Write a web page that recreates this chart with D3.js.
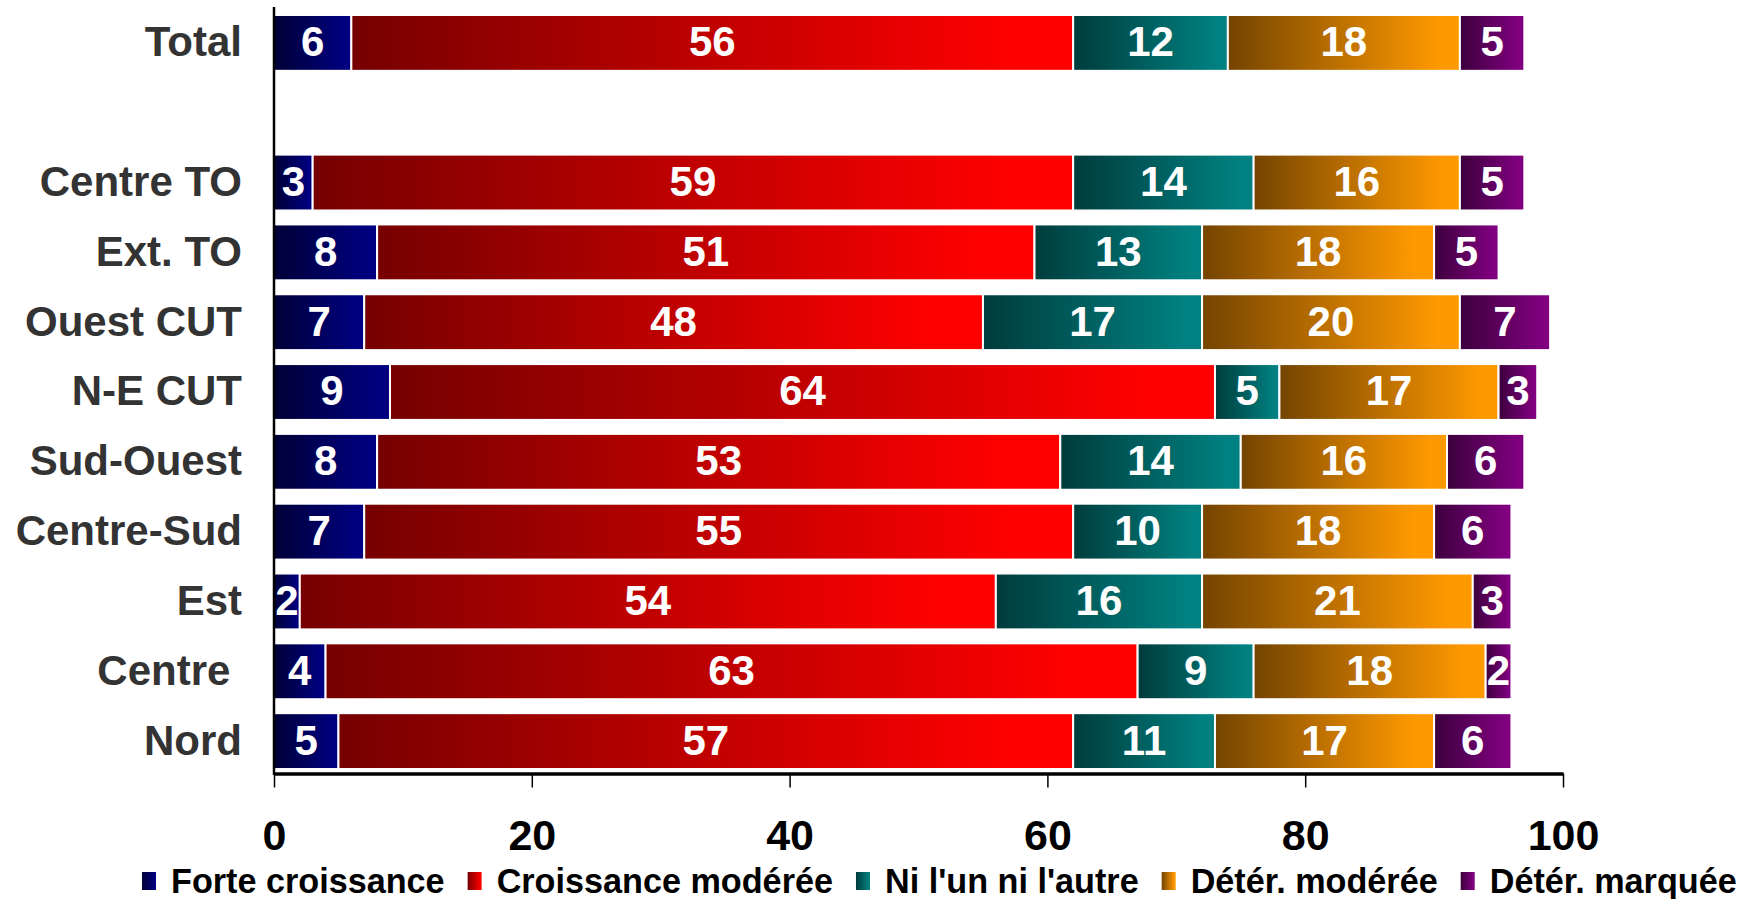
<!DOCTYPE html>
<html>
<head>
<meta charset="utf-8">
<script src="https://cdn.jsdelivr.net/npm/d3@7"></script>
<style>
  html, body { margin: 0; padding: 0; background: #ffffff; }
  svg { display: block; font-family: "Liberation Sans", Arial, sans-serif; }
</style>
</head>
<body>
<svg id="chart" width="1757" height="899"></svg>
<script>
// ---- Data ----
const categories = ["Total", "Centre TO", "Ext. TO", "Ouest CUT", "N-E CUT", "Sud-Ouest", "Centre-Sud", "Est", "Centre ", "Nord"];
const seriesNames = ["Forte croissance", "Croissance modérée", "Ni l'un ni l'autre", "Détér. modérée", "Détér. marquée"];
const forteCroissance   = [6, 3, 8, 7, 9, 8, 7, 2, 4, 5];
const croissanceModeree = [56, 59, 51, 48, 64, 53, 55, 54, 63, 57];
const niLunNiLautre     = [12, 14, 13, 17, 5, 14, 10, 16, 9, 11];
const deterModeree      = [18, 16, 18, 20, 17, 16, 18, 21, 18, 17];
const deterMarquee      = [5, 5, 5, 7, 3, 6, 6, 3, 2, 6];
const xTicks = [0, 20, 40, 60, 80, 100];

const seriesValues = [forteCroissance, croissanceModeree, niLunNiLautre, deterModeree, deterMarquee];
const seriesColors = [
  ["#000036", "#000080"],
  ["#760000", "#ff0000"],
  ["#003c3c", "#008080"],
  ["#744400", "#ff9900"],
  ["#3c003c", "#800080"]
];

// ---- Layout ----
const svg = d3.select("#chart");
const GAP = "__gap__";
const yDomain = [categories[0], GAP, ...categories.slice(1)];

const x = d3.scaleLinear().domain([0, 100]).range([274, 1563]);
const y = d3.scaleBand().domain(yDomain).range([8, 776]).paddingInner(0.2).paddingOuter(0.1);

// gradients
const defs = svg.append("defs");
seriesColors.forEach((c, i) => {
  const g = defs.append("linearGradient").attr("id", "grad" + i)
    .attr("x1", "0%").attr("x2", "100%").attr("y1", "0%").attr("y2", "0%");
  g.append("stop").attr("offset", "0%").attr("stop-color", c[0]);
  g.append("stop").attr("offset", "92%").attr("stop-color", c[1]);
  g.append("stop").attr("offset", "100%").attr("stop-color", c[1]);
});

// stacked data
const rows = categories.map((cat, ci) => {
  let acc = 0;
  return seriesValues.map((vals, si) => {
    const v = vals[ci];
    const seg = { cat, si, v, x0: acc, x1: acc + v };
    acc += v;
    return seg;
  });
});

const barsG = svg.append("g");
rows.forEach(row => {
  const g = barsG.append("g");
  g.selectAll("rect").data(row).join("rect")
    .attr("x", d => x(d.x0))
    .attr("y", d => y(d.cat))
    .attr("width", d => x(d.x1) - x(d.x0))
    .attr("height", y.bandwidth())
    .attr("fill", d => `url(#grad${d.si})`)
    .attr("stroke", "#ffffff")
    .attr("stroke-width", 2);
  g.selectAll("text").data(row).join("text")
    .attr("x", d => (x(d.x0) + x(d.x1)) / 2)
    .attr("y", d => y(d.cat) + y.bandwidth() / 2)
    .attr("dy", "0.32em")
    .attr("text-anchor", "middle")
    .attr("fill", "#ffffff")
    .attr("font-weight", "bold")
    .attr("font-size", 42)
    .text(d => d.v);
});

// y axis (category labels)
const yAxis = d3.axisLeft(y).tickSize(0).tickPadding(32)
  .tickFormat(d => d === GAP ? "" : d);
const yG = svg.append("g").attr("transform", "translate(274,0)").call(yAxis);
yG.select(".domain").attr("stroke", "#000").attr("stroke-width", 2.5)
  .attr("d", `M0,${7}V${775}`);
yG.selectAll(".tick text")
  .attr("font-size", 42).attr("font-weight", "bold").attr("fill", "#333333")
  .attr("font-family", "Liberation Sans, Arial, sans-serif")
  .attr("dy", "0.32em")
  .style("white-space", "pre");

// x axis
const xAxis = d3.axisBottom(x).tickValues(xTicks).tickSize(14).tickSizeOuter(0).tickPadding(32);
const xG = svg.append("g").attr("transform", "translate(0,773.5)").call(xAxis);
xG.select(".domain").attr("stroke", "#000").attr("stroke-width", 3.5);
xG.selectAll(".tick line").attr("stroke", "#000").attr("stroke-width", 1.5);
xG.selectAll(".tick text")
  .attr("font-size", 43).attr("font-weight", "bold").attr("fill", "#000")
  .attr("font-family", "Liberation Sans, Arial, sans-serif");

// legend
const legend = svg.append("g");
let lx = 142;
seriesNames.forEach((name, i) => {
  legend.append("rect")
    .attr("x", lx).attr("y", 872).attr("width", 14).attr("height", 18)
    .attr("fill", `url(#grad${i})`);
  const t = legend.append("text")
    .attr("x", lx + 29).attr("y", 893)
    .attr("font-size", 34.2).attr("font-weight", "bold").attr("fill", "#000")
    .text(name);
  lx += 29 + t.node().getComputedTextLength() + 23;
});
</script>
</body>
</html>
